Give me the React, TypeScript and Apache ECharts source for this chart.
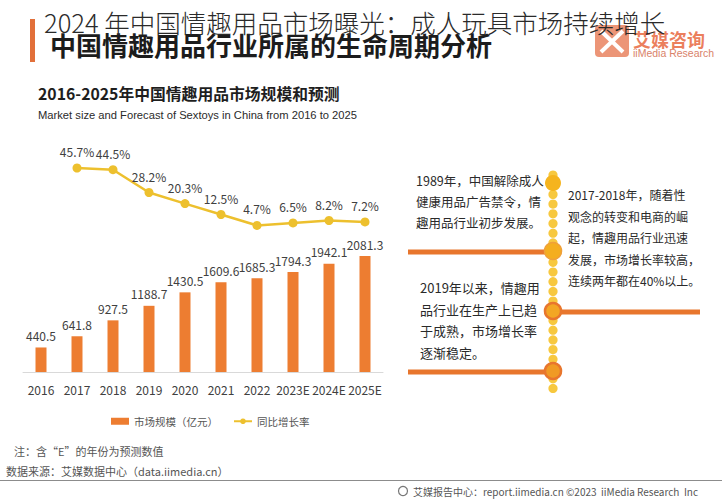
import React, { useEffect, useRef } from "react";
import * as echarts from "echarts";

const categories = ["2016", "2017", "2018", "2019", "2020", "2021", "2022", "2023E", "2024E", "2025E"];
const marketSize = [440.5, 641.8, 927.5, 1188.7, 1430.5, 1609.6, 1685.3, 1794.3, 1942.1, 2081.3];
const growthRate = [null, 45.7, 44.5, 28.2, 20.3, 12.5, 4.7, 6.5, 8.2, 7.2];

const overlayTitle = "2024 年中国情趣用品市场曝光：成人玩具市场持续增长";
const mainTitle = "中国情趣用品行业所属的生命周期分析";
const chartTitleZh = "2016-2025年中国情趣用品市场规模和预测";
const chartTitleEn = "Market size and Forecast of Sextoys in China from 2016 to 2025";
const noteLeftTop = ["1989年，中国解除成人", "健康用品广告禁令，情", "趣用品行业初步发展。"];
const noteRight = ["2017-2018年，随着性", "观念的转变和电商的崛", "起，情趣用品行业迅速", "发展，市场增长率较高，", "连续两年都在40%以上。"];
const noteLeftBottom = ["2019年以来，情趣用", "品行业在生产上已趋", "于成熟，市场增长率", "逐渐稳定。"];
const footNote = "注：含“E”的年份为预测数值";
const sourceText = "数据来源：艾媒数据中心（data.iimedia.cn）";
const bottomText = "艾媒报告中心：report.iimedia.cn ©2023  iiMedia Research  Inc";

const FONT = "'Noto Sans CJK SC', 'Noto Sans', sans-serif";

export default function App() {
  const ref = useRef<HTMLDivElement>(null);
  useEffect(() => {
    if (!ref.current) return;
    const chart = echarts.init(ref.current, undefined, { renderer: "svg" });

    const graphics: any[] = [];
    // orange side bar
    graphics.push({ type: "rect", shape: { x: 30, y: 19, width: 5, height: 43 }, style: { fill: "#E2703A" } });
    // main bold title
    graphics.push({
      type: "text", x: 50, y: 44, z: 10,
      style: { text: mainTitle, fill: "#1c1c1c", fontSize: 26, fontWeight: "bold", fontFamily: FONT, align: "left", verticalAlign: "middle" },
    });
    // logo
    graphics.push({ type: "rect", shape: { x: 595, y: 25, width: 34, height: 32, r: 4 }, style: { fill: "#E9825F", opacity: 0.85 } });
    graphics.push({ type: "line", shape: { x1: 601, y1: 31, x2: 623, y2: 52 }, style: { stroke: "#fff", lineWidth: 4 } });
    graphics.push({ type: "line", shape: { x1: 623, y1: 31, x2: 601, y2: 52 }, style: { stroke: "#fff", lineWidth: 4 } });
    graphics.push({
      type: "text", x: 633, y: 39,
      style: { text: "艾媒咨询", fill: "#E8683F", fontSize: 18, fontWeight: "bold", fontFamily: FONT, align: "left", verticalAlign: "middle", opacity: 0.85 },
    });
    graphics.push({
      type: "text", x: 633, y: 53,
      style: { text: "iiMedia Research", fill: "#D9826A", fontSize: 10.5, fontFamily: "'Liberation Sans', sans-serif", align: "left", verticalAlign: "middle" },
    });
    // overlay title
    graphics.push({
      type: "text", x: 44, y: 21, z: 20,
      style: { text: overlayTitle, fill: "#2a2a2a", fontSize: 25.5, fontWeight: 300, fontFamily: FONT, align: "left", verticalAlign: "middle" },
    });
    // chart titles
    graphics.push({
      type: "text", x: 38, y: 93,
      style: { text: chartTitleZh, fill: "#1e1e1e", fontSize: 15.8, fontWeight: "bold", fontFamily: FONT, align: "left", verticalAlign: "middle" },
    });
    graphics.push({
      type: "text", x: 38, y: 115,
      style: { text: chartTitleEn, fill: "#2a2a2a", fontSize: 11.2, fontFamily: "'Liberation Sans', sans-serif", align: "left", verticalAlign: "middle" },
    });

    // timeline dots
    for (let y = 175; y <= 390; y += 9.7) {
      graphics.push({ type: "circle", shape: { cx: 553, cy: y, r: 4.6 }, style: { fill: "#F6C22A", opacity: 0.9 } });
    }
    // horizontal orange lines
    const lineColor = "#E8762D";
    graphics.push({ type: "line", shape: { x1: 408, y1: 252, x2: 553, y2: 252 }, style: { stroke: lineColor, lineWidth: 5 } });
    graphics.push({ type: "line", shape: { x1: 553, y1: 312, x2: 700, y2: 312 }, style: { stroke: lineColor, lineWidth: 5 } });
    graphics.push({ type: "line", shape: { x1: 408, y1: 372, x2: 553, y2: 372 }, style: { stroke: lineColor, lineWidth: 5 } });
    // big circles
    graphics.push({ type: "circle", shape: { cx: 553, cy: 183, r: 8 }, style: { fill: "#F5B41E" } });
    graphics.push({ type: "circle", shape: { cx: 553, cy: 251, r: 8.5 }, style: { fill: "#F4AE1F", stroke: "#EFA03A", lineWidth: 1.5 } });
    graphics.push({ type: "circle", shape: { cx: 553, cy: 311, r: 8 }, style: { fill: "#F3A624", stroke: "#E8762D", lineWidth: 2.5 } });
    graphics.push({ type: "circle", shape: { cx: 553, cy: 371, r: 8 }, style: { fill: "#F09A24", stroke: "#E8762D", lineWidth: 2.5 } });
    // notes
    graphics.push({
      type: "text", x: 416, y: 170,
      style: { text: noteLeftTop.join("\n"), fill: "#2a2a2a", fontSize: 12.5, lineHeight: 21, fontFamily: FONT, align: "left", verticalAlign: "top" },
    });
    graphics.push({
      type: "text", x: 568, y: 184,
      style: { text: noteRight.join("\n"), fill: "#2a2a2a", fontSize: 12, lineHeight: 21.5, fontFamily: FONT, align: "left", verticalAlign: "top" },
    });
    graphics.push({
      type: "text", x: 420, y: 277,
      style: { text: noteLeftBottom.join("\n"), fill: "#2a2a2a", fontSize: 13, lineHeight: 21.5, fontFamily: FONT, align: "left", verticalAlign: "top" },
    });
    // footer
    graphics.push({
      type: "text", x: 14, y: 451,
      style: { text: footNote, fill: "#555", fontSize: 11, fontFamily: FONT, align: "left", verticalAlign: "middle" },
    });
    graphics.push({
      type: "text", x: 6, y: 471,
      style: { text: sourceText, fill: "#555", fontSize: 11, fontFamily: FONT, align: "left", verticalAlign: "middle" },
    });
    graphics.push({ type: "line", shape: { x1: 0, y1: 480.5, x2: 722, y2: 480.5 }, style: { stroke: "#8c8c8c", lineWidth: 1 } });
    graphics.push({ type: "circle", shape: { cx: 403, cy: 491, r: 4.5 }, style: { fill: "none", stroke: "#777", lineWidth: 1.2 } });
    graphics.push({
      type: "text", x: 413, y: 491,
      style: { text: bottomText, fill: "#555", fontSize: 10, fontFamily: FONT, align: "left", verticalAlign: "middle" },
    });

    chart.setOption({
      animation: false,
      backgroundColor: "#ffffff",
      textStyle: { fontFamily: FONT },
      grid: { left: 23, top: 127, width: 360, height: 245, containLabel: false },
      legend: {
        left: 106, top: 411, itemWidth: 18, itemHeight: 7, itemGap: 15,
        textStyle: { fontSize: 10.5, color: "#555", fontFamily: FONT },
        data: [
          { name: "市场规模（亿元）", icon: "rect" },
          { name: "同比增长率" },
        ],
      },
      xAxis: {
        type: "category",
        data: categories,
        axisLine: { lineStyle: { color: "#d9d9d9" } },
        axisTick: { show: false },
        axisLabel: { color: "#404040", fontSize: 12, margin: 11, interval: 0 },
      },
      yAxis: [
        { type: "value", min: 0, max: 4400, show: false, splitLine: { show: false } },
        { type: "value", min: -100, max: 75, show: false, splitLine: { show: false } },
      ],
      series: [
        {
          name: "市场规模（亿元）",
          type: "bar",
          data: marketSize,
          barWidth: 11,
          itemStyle: { color: "#ED7D31" },
          label: { show: true, position: "top", distance: 6, color: "#404040", fontSize: 12 },
        },
        {
          name: "同比增长率",
          type: "line",
          yAxisIndex: 1,
          data: growthRate,
          symbol: "circle",
          symbolSize: 9,
          lineStyle: { color: "#EDC02E", width: 2.5 },
          itemStyle: { color: "#EDC02E" },
          label: { show: true, position: "top", distance: 6, color: "#404040", fontSize: 12, formatter: "{c}%" },
        },
      ],
      graphic: graphics,
    });
    return () => chart.dispose();
  }, []);
  return <div ref={ref} style={{ position: "absolute", left: 0, top: 0, width: 722, height: 500 }} />;
}
